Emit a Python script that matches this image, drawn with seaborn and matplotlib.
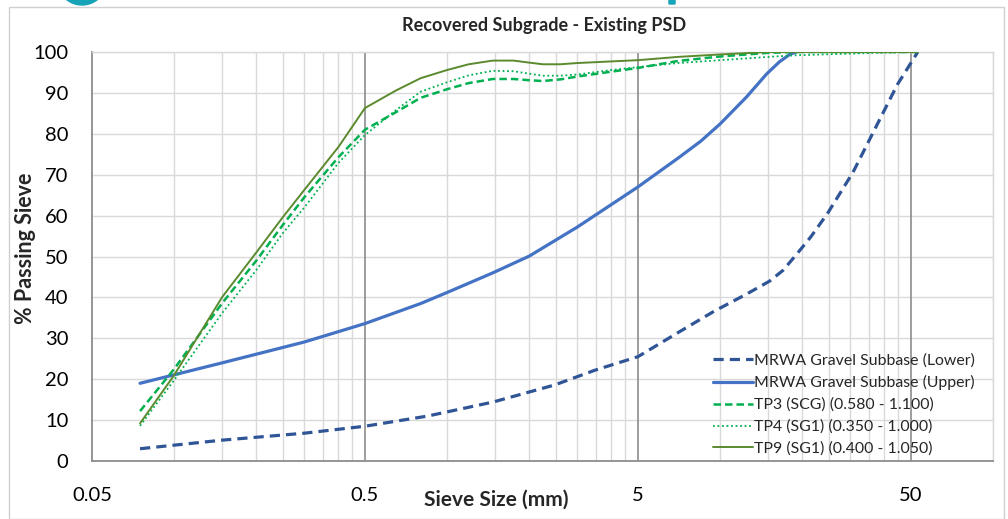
import numpy as np
import pandas as pd
import matplotlib
matplotlib.use("Agg")
import matplotlib.pyplot as plt
import matplotlib.patches as mpatches
from matplotlib.ticker import FixedLocator, NullFormatter
import seaborn as sns

# ---------------- data ----------------
lower_size = [0.075, 0.15, 0.3, 0.5, 0.85, 1.47, 2.48, 3.48, 5.0, 7.1, 9.5, 12.5, 15.2, 17.0, 19.0, 21.5, 24.8, 30.7, 36.3, 44.6, 53.0]
lower_pass = [3.0, 5.1, 6.8, 8.5, 11.0, 14.4, 18.6, 22.2, 25.5, 31.6, 36.6, 40.8, 44.0, 46.6, 50.4, 54.8, 60.6, 70.6, 80.2, 92.0, 100.0]

upper_size = [0.075, 0.15, 0.3, 0.5, 0.8, 1.0, 1.47, 2.0, 3.0, 5.0, 7.1, 8.5, 10.0, 12.5, 14.8, 16.5, 18.0, 19.0]
upper_pass = [19.0, 24.0, 29.1, 33.6, 38.5, 41.2, 46.0, 50.1, 57.2, 67.0, 74.3, 78.2, 82.4, 89.0, 94.6, 97.6, 99.4, 100.0]

tp_size = [0.075, 0.1, 0.15, 0.2, 0.25, 0.3, 0.4, 0.5, 0.65, 0.8, 1.0, 1.2, 1.47, 1.75, 2.0, 2.24, 2.6, 3.0, 4.0, 5.0, 7.0, 10.0, 15.0, 19.0, 26.5, 37.5, 53.0]
tp3_pass = [12.2, 22.5, 38.6, 49.0, 57.7, 64.5, 74.3, 81.0, 85.3, 88.8, 90.9, 92.4, 93.4, 93.4, 93.1, 92.9, 93.3, 94.0, 95.2, 96.1, 97.8, 98.9, 99.8, 100.0, 100.0, 100.0, 100.0]
tp4_pass = [8.6, 19.8, 36.2, 46.7, 55.7, 62.0, 72.9, 79.7, 85.8, 90.3, 92.6, 94.3, 95.4, 95.3, 94.7, 94.2, 94.2, 94.5, 95.6, 96.3, 97.3, 98.0, 98.8, 99.2, 99.5, 99.8, 100.0]
tp9_pass = [9.2, 21.0, 40.1, 51.0, 59.6, 66.3, 76.8, 86.3, 90.6, 93.6, 95.6, 97.0, 97.9, 97.9, 97.4, 97.0, 97.0, 97.3, 97.7, 98.0, 98.8, 99.4, 100.0, 100.0, 100.0, 100.0, 100.0]

series_names = ["MRWA Gravel Subbase (Lower)", "MRWA Gravel Subbase (Upper)",
                "TP3 (SCG) (0.580 - 1.100)", "TP4 (SG1) (0.350 - 1.000)",
                "TP9 (SG1) (0.400 - 1.050)"]

x_ticks = [0.05, 0.5, 5, 50]
x_ticklabels = ["0.05", "0.5", "5", "50"]
y_ticks = list(range(0, 101, 10))

title = "Recovered Subgrade - Existing PSD"
xlabel = "Sieve Size (mm)"
ylabel = "% Passing Sieve"

# ---------------- style ----------------
sns.set_theme(style="white")
plt.rcParams["font.family"] = ["Lato", "DejaVu Sans"]

W, H = 1008, 519
fig = plt.figure(figsize=(W / 100, H / 100), dpi=100)
ax = fig.add_axes([92 / W, (H - 461) / H, (993 - 92) / W, (461 - 52) / H])

styles = [
    dict(color="#2F5597", lw=2.3, ls=(0, (3.2, 1.9))),
    dict(color="#4472C4", lw=2.3, ls="-"),
    dict(color="#00B050", lw=1.8, ls=(0, (3.0, 1.6))),
    dict(color="#00B050", lw=1.3, ls=(0, (1.0, 1.5))),
    dict(color="#5B8A2E", lw=1.4, ls="-"),
]
data = [(lower_size, lower_pass), (upper_size, upper_pass),
        (tp_size, tp3_pass), (tp_size, tp4_pass), (tp_size, tp9_pass)]

for (xs, ys), name, st in zip(data, series_names, styles):
    df = pd.DataFrame({"size": xs, "pass": ys})
    sns.lineplot(data=df, x="size", y="pass", ax=ax, label=name,
                 color=st["color"], linewidth=st["lw"], linestyle=st["ls"],
                 sort=False, zorder=3)

ax.set_xscale("log")
ax.set_xlim(0.05, 100)
ax.set_ylim(0, 100)

# grid: minor verticals at k*0.05*10^n
minor = []
for dec in [0.05, 0.5, 5, 50]:
    for k in range(2, 10):
        v = dec * k
        if v <= 100:
            minor.append(v)
ax.xaxis.set_major_locator(FixedLocator(x_ticks))
ax.xaxis.set_minor_locator(FixedLocator(minor))
ax.xaxis.set_minor_formatter(NullFormatter())
ax.set_xticklabels(x_ticklabels)
ax.set_yticks(y_ticks)

ax.grid(False)
for v in minor:
    ax.axvline(v, color="#D9D9D9", lw=1.0, zorder=1)
for v in x_ticks[1:]:
    ax.axvline(v, color="#8C8C8C", lw=1.2, zorder=1.5)
for v in y_ticks[1:]:
    ax.axhline(v, color="#D9D9D9", lw=1.0, zorder=1)

for side in ["top", "right"]:
    ax.spines[side].set_color("#D9D9D9")
    ax.spines[side].set_linewidth(1.0)
for side in ["left", "bottom"]:
    ax.spines[side].set_color("#8C8C8C")
    ax.spines[side].set_linewidth(1.3)

ax.tick_params(axis="both", which="both", length=0, labelsize=14.5, colors="#000000")
ax.tick_params(axis="x", pad=19)
ax.tick_params(axis="y", pad=17)

ax.set_xlabel(xlabel, fontsize=15, fontweight="bold")
ax.xaxis.set_label_coords((496 - 92) / (993 - 92), -(490 - 461) / (461 - 52), transform=ax.transAxes)
ax.set_ylabel(ylabel, fontsize=15.5, fontweight="bold")
ax.yaxis.set_label_coords(-(92 - 36) / (993 - 92), 0.52, transform=ax.transAxes)

fig.text(544 / W, 1 - 25 / H, title, ha="center", va="center",
         fontsize=13, fontweight="bold")

leg = ax.legend(loc="lower right", bbox_to_anchor=(975 / W, (H - 456) / H),
                bbox_transform=fig.transFigure, frameon=False, fontsize=11.4,
                handlelength=2.5, handletextpad=0.1, borderpad=0,
                borderaxespad=0, labelspacing=0.48)
for t in leg.get_texts():
    t.set_color("#262626")

# chart-area border and cropped decorations
fig.patches.append(mpatches.Rectangle((9 / W, 0), (1004 - 9) / W, (H - 7) / H,
                                      transform=fig.transFigure, fill=False,
                                      edgecolor="#D0D0D0", lw=1.0))
fig.patches.append(mpatches.Ellipse((82 / W, (H + 16) / H), 46 / W, 42 / H,
                                    transform=fig.transFigure, color="#17A3B8"))
fig.patches.append(mpatches.FancyBboxPatch((669 / W, (H - 4) / H), 6 / W, 6 / H,
                                           boxstyle="round,pad=0", transform=fig.transFigure,
                                           color="#17A3B8"))

fig.savefig("out.png", dpi=100)
